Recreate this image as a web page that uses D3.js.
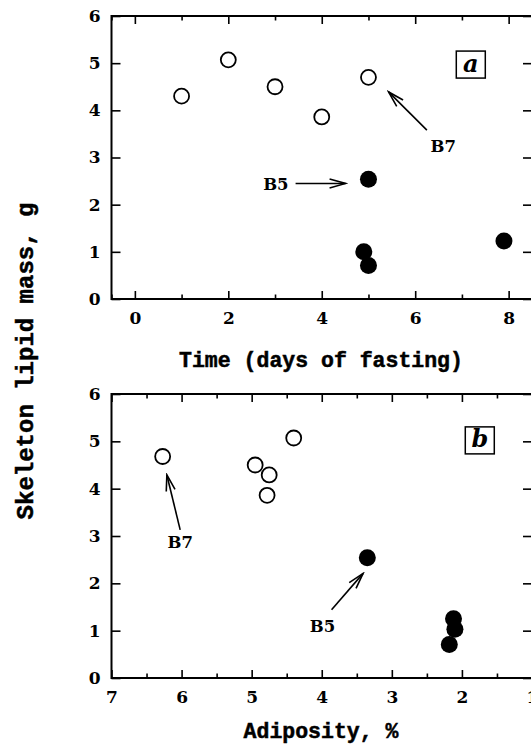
<!DOCTYPE html>
<html>
<head>
<meta charset="utf-8">
<script src="https://cdn.jsdelivr.net/npm/d3@7"></script>
<style>
  body { margin: 0; background: #fff; }
  text { font-family: "Liberation Mono", "DejaVu Sans Mono", monospace; font-weight: bold; fill: #000; }
</style>
</head>
<body>
<div id="chart"></div>
<script>
// Skeleton lipid mass vs fasting time (a) and adiposity (b)

// panel a: time (days of fasting)
const fedDays = [1, 2, 3, 4, 5];
const fedMassA = [4.30, 5.07, 4.50, 3.86, 4.70];
const fastDays = [5.0, 4.9, 5.0, 7.9];
const fastMassA = [2.54, 1.00, 0.71, 1.23];

// panel b: adiposity, %
const fedAdip = [6.27, 4.95, 4.75, 4.78, 4.40];
const fedMassB = [4.68, 4.50, 4.29, 3.86, 5.07];
const fastAdip = [3.35, 2.12, 2.10, 2.18];
const fastMassB = [2.54, 1.25, 1.03, 0.71];

const yTicks = [0, 1, 2, 3, 4, 5, 6];
const timeTicks = [0, 2, 4, 6, 8];
const timeMinor = [-0.5, 1, 3, 5, 7];
const adipTicks = [7, 6, 5, 4, 3, 2, 1];
const adipMinor = [6.5, 5.5, 4.5, 3.5, 2.5, 1.5];

// annotations, in data units: [x1, y1, x2, y2] tail -> tip
const annA = [
  {label: "B7", arrow: [6.25, 3.58, 5.43, 4.39], tx: 6.33, ty: 3.11, anchor: "start"},
  {label: "B5", arrow: [3.44, 2.45, 4.51, 2.45], tx: 3.29, ty: 2.31, anchor: "end"}
];
const annB = [
  {label: "B7", arrow: [6.02, 3.13, 6.21, 4.29], tx: 6.20, ty: 2.75, anchor: "start"},
  {label: "B5", arrow: [3.86, 1.44, 3.41, 2.21], tx: 4.17, ty: 0.98, anchor: "start"}
];

const W = 531, H = 749;
const serif = "'DejaVu Serif', serif";

const svg = d3.select("#chart")
  .append("svg")
    .attr("width", W)
    .attr("height", H);

svg.append("rect").attr("width", W).attr("height", H).attr("fill", "#fff");

svg.append("defs").append("marker")
    .attr("id", "head")
    .attr("markerUnits", "userSpaceOnUse")
    .attr("viewBox", "-18 -6 20 12")
    .attr("refX", 0)
    .attr("refY", 0)
    .attr("markerWidth", 20)
    .attr("markerHeight", 12)
    .attr("orient", "auto")
  .append("path")
    .attr("d", "M-16,-4.5 L0,0 L-16,4.5")
    .attr("fill", "none")
    .attr("stroke", "#000")
    .attr("stroke-width", 1.6);

function panel(cfg) {
  const x = d3.scaleLinear().domain(cfg.xDomain).range([111.5, 532]);
  const y = d3.scaleLinear().domain([0, 6]).range([cfg.bottom, cfg.top]);
  const g = svg.append("g");

  // minor ticks, bottom and top
  g.append("g")
    .attr("transform", "translate(0," + cfg.bottom + ")")
    .call(d3.axisBottom(x).tickValues(cfg.minor).tickSize(-4.5).tickFormat(""));
  g.append("g")
    .attr("transform", "translate(0," + cfg.top + ")")
    .call(d3.axisTop(x).tickValues(cfg.minor).tickSize(-4.5).tickFormat(""));

  // major ticks
  g.append("g")
    .attr("transform", "translate(0," + cfg.bottom + ")")
    .call(d3.axisBottom(x).tickValues(cfg.major).tickSize(-8).tickPadding(13).tickFormat(d3.format("d")));
  g.append("g")
    .attr("transform", "translate(0," + cfg.top + ")")
    .call(d3.axisTop(x).tickValues(cfg.major).tickSize(-8).tickFormat(""));

  g.append("g")
    .attr("transform", "translate(111.5,0)")
    .call(d3.axisLeft(y).tickValues(yTicks).tickSize(-9).tickPadding(11).tickFormat(d3.format("d")));
  g.append("g")
    .attr("transform", "translate(532,0)")
    .call(d3.axisRight(y).tickValues(yTicks).tickSize(-9).tickFormat(""));

  g.selectAll(".domain").remove();
  g.selectAll(".tick line").attr("stroke", "#000").attr("stroke-width", 1.6);
  g.selectAll(".tick text")
    .style("font-family", serif)
    .style("font-weight", "bold")
    .style("font-size", "17px")
    .attr("fill", "#000");

  // frame
  g.append("rect")
    .attr("x", 111.5)
    .attr("y", cfg.top)
    .attr("width", 532 - 111.5)
    .attr("height", cfg.bottom - cfg.top)
    .attr("fill", "none")
    .attr("stroke", "#000")
    .attr("stroke-width", 2);

  // open circles
  g.selectAll("circle.open")
    .data(cfg.openX.map((v, i) => [v, cfg.openY[i]]))
    .enter().append("circle")
      .attr("class", "open")
      .attr("cx", d => x(d[0]))
      .attr("cy", d => y(d[1]))
      .attr("r", 7.5)
      .attr("fill", "#fff")
      .attr("stroke", "#000")
      .attr("stroke-width", 1.8);

  // filled circles
  g.selectAll("circle.filled")
    .data(cfg.fillX.map((v, i) => [v, cfg.fillY[i]]))
    .enter().append("circle")
      .attr("class", "filled")
      .attr("cx", d => x(d[0]))
      .attr("cy", d => y(d[1]))
      .attr("r", 8.5)
      .attr("fill", "#000");

  // arrows and labels
  cfg.ann.forEach(a => {
    g.append("line")
      .attr("x1", x(a.arrow[0])).attr("y1", y(a.arrow[1]))
      .attr("x2", x(a.arrow[2])).attr("y2", y(a.arrow[3]))
      .attr("stroke", "#000")
      .attr("stroke-width", 1.6)
      .attr("marker-end", "url(#head)");
    g.append("text")
      .attr("x", x(a.tx))
      .attr("y", y(a.ty))
      .attr("text-anchor", a.anchor)
      .attr("font-size", 16.5)
      .style("font-family", serif)
      .text(a.label);
  });

  // panel tag
  const tx = x(cfg.tag[0]), ty = y(cfg.tag[1]);
  g.append("rect")
    .attr("x", tx - 14.5).attr("y", ty - 13.5)
    .attr("width", 29).attr("height", 27)
    .attr("fill", "#fff")
    .attr("stroke", "#000")
    .attr("stroke-width", 1.5);
  g.append("text")
    .attr("x", tx).attr("y", ty + 7)
    .attr("text-anchor", "middle")
    .attr("font-size", 24)
    .style("font-family", serif)
    .style("font-style", "italic")
    .text(cfg.tagText);

  // x title
  g.append("text")
    .attr("x", 321)
    .attr("y", cfg.titleY)
    .attr("text-anchor", "middle")
    .attr("font-size", 21.5)
    .attr("stroke", "#000")
    .attr("stroke-width", 0.5)
    .text(cfg.title);
}

panel({
  xDomain: [-0.5, 8.5], top: 16, bottom: 299,
  major: timeTicks, minor: timeMinor,
  openX: fedDays, openY: fedMassA, fillX: fastDays, fillY: fastMassA,
  ann: annA, tag: [7.19, 4.97], tagText: "a",
  title: "Time (days of fasting)", titleY: 367
});

panel({
  xDomain: [7, 1], top: 394, bottom: 678,
  major: adipTicks, minor: adipMinor,
  openX: fedAdip, openY: fedMassB, fillX: fastAdip, fillY: fastMassB,
  ann: annB, tag: [1.745, 5.02], tagText: "b",
  title: "Adiposity, %", titleY: 738
});

// shared y title
svg.append("text")
  .attr("transform", "translate(33,361) rotate(-90)")
  .attr("text-anchor", "middle")
  .attr("font-size", 24)
  .attr("stroke", "#000")
  .attr("stroke-width", 0.5)
  .text("Skeleton lipid mass, g");
</script>
</body>
</html>
